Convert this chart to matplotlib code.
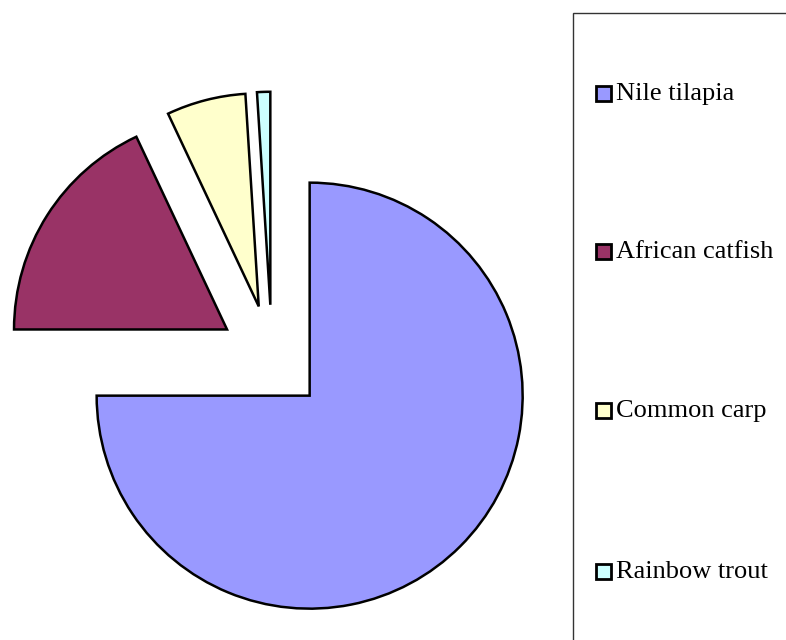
import matplotlib
matplotlib.use("Agg")
import matplotlib.pyplot as plt
from matplotlib.patches import Rectangle

species = ["Nile tilapia", "African catfish", "Common carp", "Rainbow trout"]
shares = [75, 18, 6, 1]
colors = ["#9999FF", "#993366", "#FFFFCC", "#CCFFFF"]
explode = [0.25, 0.25, 0.25, 0.25]

W, H, DPI = 786, 640, 100
fig = plt.figure(figsize=(W / DPI, H / DPI), dpi=DPI)
fig.patch.set_facecolor("white")

# Pie drawn in a full-figure axes; limits place the centre and set the radius in pixels
ax = fig.add_axes([0, 0, 1, 1])
cx, cy, r = 272, H - 358, 213
ax.pie(shares, colors=colors, explode=explode, startangle=90, counterclock=False,
       radius=1.0, center=(0, 0),
       wedgeprops=dict(edgecolor="black", linewidth=1.8, joinstyle="miter"))
ax.set_xlim(-cx / r, (W - cx) / r)
ax.set_ylim(-cy / r, (H - cy) / r)
ax.set_aspect("auto")
ax.axis("off")

# Legend frame running off the right and bottom edges
fig.patches.append(Rectangle((572.5 / W, -0.1), 0.5, (H - 12.5) / H + 0.1,
                             transform=fig.transFigure, facecolor="none",
                             edgecolor="#333333", linewidth=1.0, clip_on=False))

legend_y = [93, 251, 410, 571]
for name, col, yp in zip(species, colors, legend_y):
    fig.patches.append(Rectangle((596 / W, (H - yp - 8) / H), 15 / W, 15 / H,
                                 transform=fig.transFigure, facecolor=col,
                                 edgecolor="black", linewidth=2.0))
    fig.text(616 / W, (H - yp - 1) / H, name, family="Liberation Serif", fontsize=19,
             va="center", ha="left", color="black")

fig.savefig("out.png", dpi=DPI, facecolor="white")
